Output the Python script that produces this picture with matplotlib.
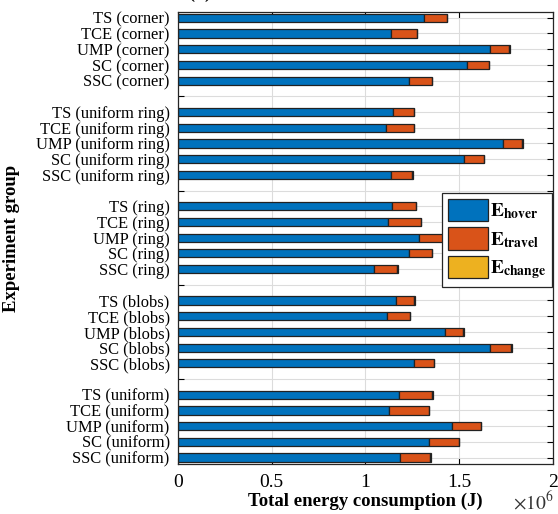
import matplotlib
matplotlib.use("Agg")
import matplotlib.pyplot as plt
from matplotlib.ticker import FuncFormatter
import numpy as np

plt.rcParams['font.family'] = ['Liberation Serif', 'DejaVu Serif']
plt.rcParams['mathtext.fontset'] = 'stix'

algorithms = ["TS", "TCE", "UMP", "SC", "SSC"]
scenarios = ["corner", "uniform ring", "ring", "blobs", "uniform"]

# E_hover per scenario (J), order TS, TCE, UMP, SC, SSC
hover_corner = [1.312e6, 1.134e6, 1.664e6, 1.543e6, 1.234e6]
hover_uniform_ring = [1.145e6, 1.109e6, 1.731e6, 1.527e6, 1.136e6]
hover_ring = [1.140e6, 1.118e6, 1.287e6, 1.234e6, 1.047e6]
hover_blobs = [1.161e6, 1.113e6, 1.422e6, 1.664e6, 1.260e6]
hover_uniform = [1.177e6, 1.127e6, 1.460e6, 1.340e6, 1.182e6]

travel_corner = [0.121e6, 0.142e6, 0.103e6, 0.116e6, 0.121e6]
travel_uniform_ring = [0.115e6, 0.148e6, 0.105e6, 0.103e6, 0.114e6]
travel_ring = [0.131e6, 0.176e6, 0.124e6, 0.121e6, 0.123e6]
travel_blobs = [0.100e6, 0.124e6, 0.100e6, 0.112e6, 0.105e6]
travel_uniform = [0.178e6, 0.212e6, 0.156e6, 0.160e6, 0.164e6]

change_corner = [0.001e6, 0.000e6, 0.002e6, 0.001e6, 0.001e6]
change_uniform_ring = [0.001e6, 0.004e6, 0.002e6, 0.001e6, 0.004e6]
change_ring = [0.001e6, 0.003e6, 0.001e6, 0.001e6, 0.001e6]
change_blobs = [0.004e6, 0.001e6, 0.001e6, 0.004e6, 0.001e6]
change_uniform = [0.004e6, 0.001e6, 0.001e6, 0.001e6, 0.001e6]

x_ticks = [0, 0.5e6, 1e6, 1.5e6, 2e6]

hover = [hover_corner, hover_uniform_ring, hover_ring, hover_blobs, hover_uniform]
travel = [travel_corner, travel_uniform_ring, travel_ring, travel_blobs, travel_uniform]
change = [change_corner, change_uniform_ring, change_ring, change_blobs, change_uniform]

c_hover = "#0072BD"
c_travel = "#D95319"
c_change = "#EDB120"

fig = plt.figure(figsize=(5.58, 5.14), dpi=100)
ax = fig.add_axes([0.319, 0.097, 0.672, 0.880])

pos = []
h_all, t_all, c_all = [], [], []
p = 1
ticks = []
ticklabels = []
for gi, sc in enumerate(scenarios):
    for ai, al in enumerate(algorithms):
        pos.append(p)
        ticks.append(p)
        ticklabels.append(f"{al} ({sc})")
        h_all.append(hover[gi][ai])
        t_all.append(travel[gi][ai])
        c_all.append(change[gi][ai])
        p += 1
    if gi < len(scenarios) - 1:
        ticks.append(p)
        ticklabels.append("")
        p += 1

pos = np.array(pos)
h_all = np.array(h_all)
t_all = np.array(t_all)
c_all = np.array(c_all)

bh = 0.52
ec = "#222222"
lw = 0.9
b1 = ax.barh(pos, h_all, height=bh, color=c_hover, edgecolor=ec, linewidth=lw, label=r"$\mathbf{E}_{\mathbf{hover}}$")
b2 = ax.barh(pos, t_all, left=h_all, height=bh, color=c_travel, edgecolor=ec, linewidth=lw, label=r"$\mathbf{E}_{\mathbf{travel}}$")
b3 = ax.barh(pos, c_all, left=h_all + t_all, height=bh, color=c_change, edgecolor=ec, linewidth=lw, label=r"$\mathbf{E}_{\mathbf{change}}$")

ax.set_xlim(0, 2e6)
ax.set_ylim(29.42, 0.62)
ax.set_yticks(ticks)
ax.set_yticklabels(ticklabels, fontsize=11.9)
ax.set_xticks(x_ticks)
ax.xaxis.set_major_formatter(FuncFormatter(lambda v, _: f"{v/1e6:g}"))
ax.tick_params(axis='x', labelsize=14, direction='in', top=True, length=4, pad=7)
ax.tick_params(axis='y', direction='in', right=True, length=4, pad=6)
ax.grid(True, color="#dcdcdc", linewidth=0.8)
ax.set_axisbelow(True)
for s in ax.spines.values():
    s.set_color("#262626")
    s.set_linewidth(0.9)

ax.set_xlabel("Total energy consumption (J)", fontsize=13.5, fontweight='bold', labelpad=1)
ax.set_ylabel("Experiment group", fontsize=13.5, fontweight='bold')
ax.yaxis.set_label_coords(-0.421, 0.5)

fig.text(0.993, 0.023, r"$\times10^{6}$", ha='right', va='center', fontsize=14, color="#333333")

leg = ax.legend(handles=[b1, b2, b3], loc='upper right', bbox_to_anchor=(0.997, 0.600),
                fontsize=14, handlelength=2.05, handleheight=1.4, handletextpad=0.1,
                labelspacing=0.32, borderpad=0.3, borderaxespad=0.0, fancybox=False,
                edgecolor="#262626", framealpha=1)
leg.get_frame().set_linewidth(0.9)

fig.text(0.475, 1.013, "(b) Cost breakdown", ha='center', va='center', fontsize=13, fontweight='bold')

fig.savefig("out.png", dpi=100)
